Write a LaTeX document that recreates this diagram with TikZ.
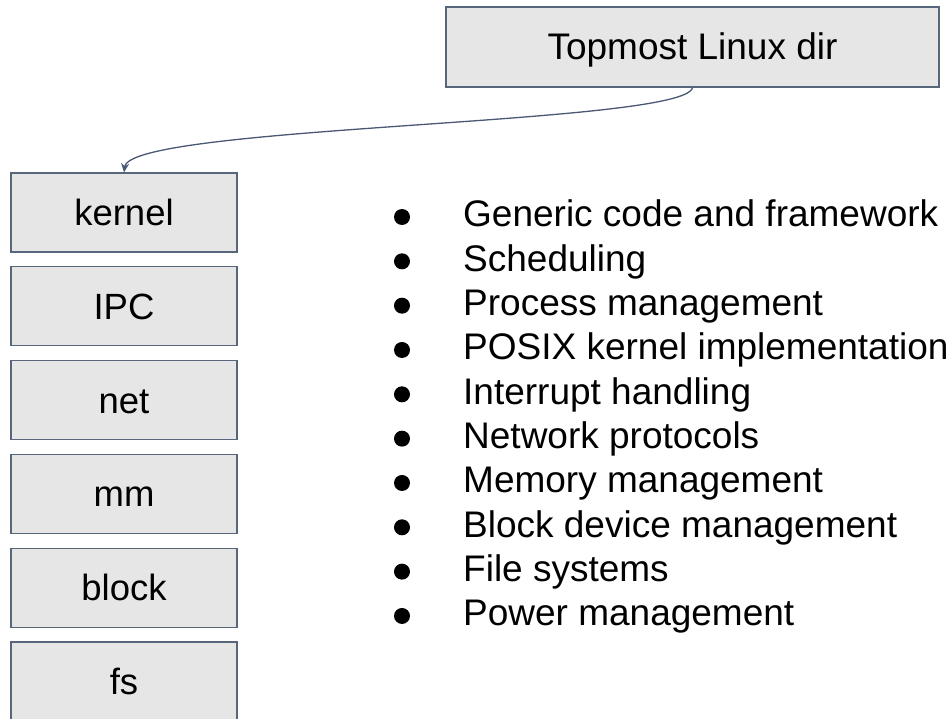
\documentclass[tikz,border=0pt]{standalone}
\usepackage{fontspec}
\setmainfont{Liberation Sans}
\usetikzlibrary{arrows.meta}
\definecolor{boxfill}{HTML}{E6E6E6}
\definecolor{boxline}{HTML}{58667C}
\definecolor{conn}{HTML}{4A5874}
\tikzset{
  dirbox/.style={draw=boxline, fill=boxfill, line width=1.3pt, minimum width=226pt, minimum height=79pt,
    inner sep=0pt, text height=26pt, text depth=0pt, font=\fontsize{36.5}{40}\selectfont},
  topbox/.style={dirbox, minimum width=493pt, minimum height=80pt, font=\fontsize{37}{40}\selectfont},
  item/.style={anchor=base west, inner sep=0pt, font=\fontsize{37}{40}\selectfont},
  dot/.style={circle, fill=black, inner sep=0pt, minimum size=16pt},
  conn/.style={draw=conn, line width=1.3pt, -{Stealth[length=9pt,width=8pt]}}
}
\begin{document}
\begin{tikzpicture}[x=1pt,y=-1pt]
\useasboundingbox (0,0) rectangle (951,719);
\node[topbox] (top) at (692.5,47) {Topmost Linux dir};
\node[dirbox] (kernel) at (124,212.5) {kernel};
\node[dirbox] (ipc) at (124,306.3) {IPC};
\node[dirbox] (net) at (124,400.1) {net};
\node[dirbox] (mm) at (124,493.9) {mm};
\node[dirbox] (block) at (124,587.7) {block};
\node[dirbox] (fs) at (124,681.5) {fs};
\draw[conn] (top.south) .. controls (685,125) and (130,125) .. (kernel.north);
\foreach \t [count=\i from 0] in {Generic code and framework,Scheduling,Process management,POSIX kernel implementation,Interrupt handling,Network protocols,Memory management,Block device management,File systems,Power management}{
  \node[dot] (b\i) at (402,{217+44.33*\i}) {};
  \node[item] (t\i) at (463,{227+44.33*\i}) {\t};
}
\end{tikzpicture}
\end{document}
